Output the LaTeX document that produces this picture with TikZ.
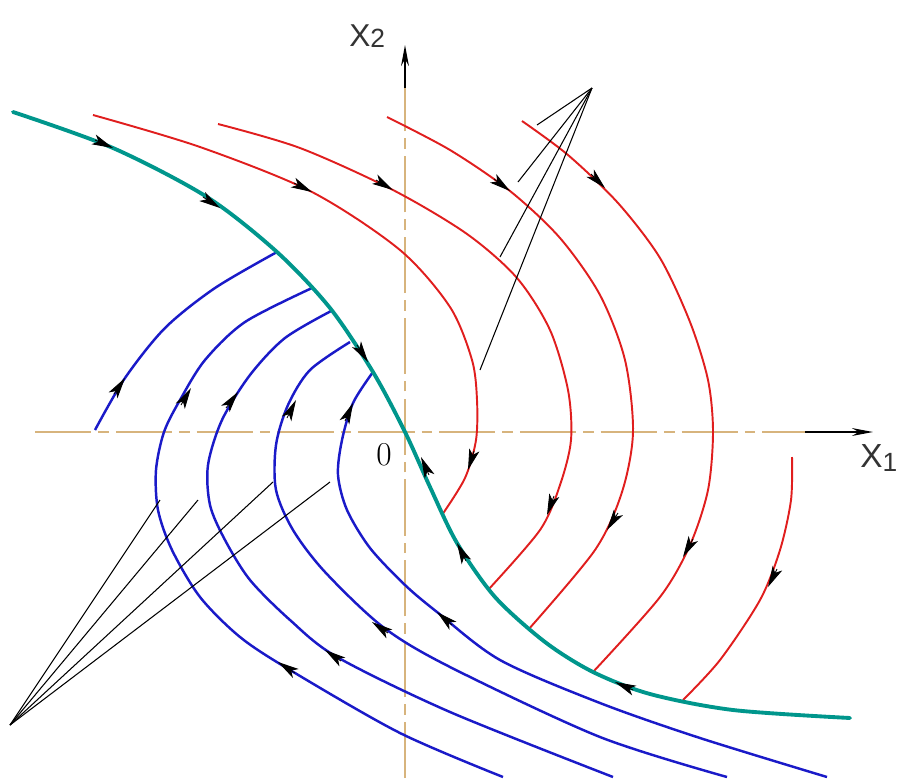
\documentclass[tikz,border=0pt]{standalone}
\usepackage{fontspec}
\usepackage{tikz}
\usetikzlibrary{arrows.meta}
\newfontfamily\axisfont{Liberation Sans}

\begin{document}
\begin{tikzpicture}[x=0.02cm,y=-0.02cm,
  asse/.style={draw=colAsse, line width=1.1pt, dash pattern=on 32pt off 4pt on 6pt off 4pt},
  assefreccia/.style={draw=black, line width=0.8pt, -{Stealth[length=12pt,width=4.5pt]}},
  commut/.style={draw=colComm, line width=2.2pt, line cap=round},
  trajRossa/.style={draw=colRosso, line width=1.1pt},
  trajBlu/.style={draw=colBlu, line width=1.4pt},
  verso/.style={draw=black, line width=0.5pt, -{Stealth[length=12pt,width=6pt,inset=3pt]}},
  richiamo/.style={draw=black, line width=0.6pt}]

% Colori
\definecolor{colAsse}{HTML}{D7B47D}
\definecolor{colComm}{HTML}{00968C}
\definecolor{colRosso}{HTML}{E01E1E}
\definecolor{colBlu}{HTML}{1A1AC8}
\definecolor{colTesto}{HTML}{333333}

% Cornice (pixel)
\useasboundingbox (0,0) rectangle (899,778);

% Assi
\draw[asse] (35,432) -- (805,432);
\draw[assefreccia] (805,432) -- (873,432);
\draw[asse] (405,778) -- (405,88);
\draw[assefreccia] (405,88) -- (405,45);

\node[anchor=west, inner sep=0, text=colTesto, font=\axisfont\fontsize{19}{19}\selectfont]
  (lblX1) at (860,458) {X\raisebox{-2pt}{\fontsize{15}{15}\selectfont 1}};
\node[anchor=west, inner sep=0, text=colTesto, font=\axisfont\fontsize{18}{18}\selectfont]
  (lblX2) at (349,36) {X\raisebox{-1pt}{\fontsize{15}{15}\selectfont 2}};
\node[inner sep=0, font=\fontsize{19}{19}\selectfont] (lblO) at (384,455) {0};

% Traiettorie rosse (u = -1)
\draw[trajRossa] plot[smooth] coordinates {(93,115) (200,147) (312,192) (400,250) (450,307)
  (472,360) (477,400) (476,440) (465,478) (442,515)};
\draw[trajRossa] plot[smooth] coordinates {(218,124) (300,148) (393,190) (467,234) (517,278)
  (550,330) (568,390) (571,440) (560,485) (540,530) (488,590)};
\draw[trajRossa] plot[smooth] coordinates {(387,117) (450,150) (510,191) (560,238) (600,295)
  (625,360) (633,432) (622,492) (595,550) (528,630)};
\draw[trajRossa] plot[smooth] coordinates {(522,121) (568,155) (618,203) (660,258) (690,322)
  (708,380) (713,432) (708,490) (690,545) (660,597) (593,672)};
\draw[trajRossa] plot[smooth] coordinates {(792,457) (791,500) (780,550) (760,600) (720,660)
  (683,700)};

% Traiettorie blu (u = +1)
\draw[trajBlu] plot[smooth] coordinates {(95,430) (125,378) (165,328) (215,288) (277,252)};
\draw[trajBlu] plot[smooth] coordinates {(312,288) (245,322) (205,360) (180,400) (164,432)
  (156,470) (158,510) (172,550) (200,597) (240,637) (290,670) (400,733) (503,777)};
\draw[trajBlu] plot[smooth] coordinates {(333,310) (285,338) (250,375) (222,420) (208,465)
  (210,505) (225,540) (250,580) (290,620) (337,657) (450,712) (613,777)};
\draw[trajBlu] plot[smooth] coordinates {(350,342) (310,370) (288,405) (276,445) (276,490)
  (293,530) (325,572) (383,627) (450,667) (600,737) (727,777)};
\draw[trajBlu] plot[smooth] coordinates {(373,372) (353,403) (342,440) (338,475) (347,510)
  (370,548) (405,585) (437,612) (500,660) (600,703) (700,738) (827,777)};

% Curva di commutazione
\draw[commut] plot[smooth] coordinates {(13,112) (113,148) (207,197) (277,252) (330,308)
  (373,372) (405,432) (430,487) (457,543) (495,597) (545,642) (593,672) (650,694) (733,710)
  (850,718)};

% Versi di percorrenza
\foreach \ax/\ay/\bx/\by in {95/140/113/148, 203/197/220/208, 357/345/368/362,
  429/475/421/457, 466/561/457/543, 633/690/615/682,
  294/183/312/192, 474/451/468/470, 376/180/393/190, 554/496/547/515,
  494/179/510/191, 618/513/607/530, 591/174/605/188, 693/539/683/557, 777/569/768/587,
  114/394/125/378, 181/405/191/388, 226/408/238/392, 287/418/296/400, 345/421/353/403,
  295/673/278/662, 341/661/325/650, 388/633/372/622, 452/625/437/612}
  \draw[verso] (\ax,\ay) -- (\bx,\by);

% Linee di richiamo
\coordinate (apiceAlto) at (592,88);
\coordinate (apiceBasso) at (10,725);
\foreach \px/\py in {537/125, 518/182, 500/257, 480/370}
  \draw[richiamo] (apiceAlto) -- (\px,\py);
\foreach \px/\py in {160/500, 198/500, 273/482, 330/482}
  \draw[richiamo] (apiceBasso) -- (\px,\py);
\end{tikzpicture}
\end{document}
